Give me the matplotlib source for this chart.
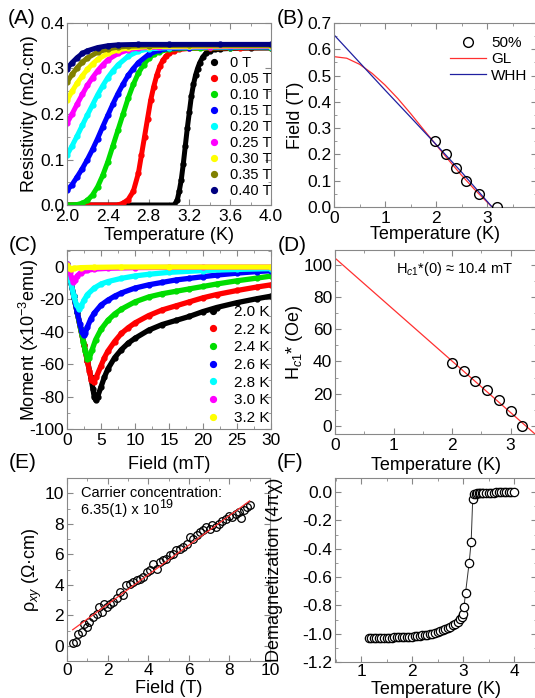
import matplotlib
matplotlib.use('Agg')
import matplotlib.pyplot as plt
from matplotlib.ticker import MultipleLocator, FormatStrFormatter

plt.rcParams['font.family'] = ['Liberation Sans', 'DejaVu Sans']
plt.rcParams['mathtext.fontset'] = 'custom'
plt.rcParams['mathtext.rm'] = 'Liberation Sans'
plt.rcParams['mathtext.it'] = 'Liberation Sans:italic'
plt.rcParams['axes.unicode_minus'] = False

# ---------------- (A) resistivity vs temperature ----------------
A_labels = ['0 T', '0.05 T', '0.10 T', '0.15 T', '0.20 T', '0.25 T', '0.30 T', '0.35 T', '0.40 T']
A_colors = ['black', '#ff0000', '#00dd00', '#0000ff', '#00ffff', '#ff00ff', '#ffff00', '#808000', '#000080']

T_00 = [2.0, 3.05, 3.08, 3.10, 3.12, 3.14, 3.16, 3.18, 3.20, 3.22, 3.24, 3.26, 3.28, 3.30, 3.33, 3.36, 3.40, 3.45, 3.5, 3.6, 3.8, 4.0]
R_00 = [0.0, 0.0, 0.01, 0.03, 0.055, 0.09, 0.13, 0.17, 0.205, 0.24, 0.265, 0.285, 0.30, 0.312, 0.325, 0.333, 0.339, 0.342, 0.343, 0.344, 0.345, 0.345]
T_05 = [2.0, 2.5, 2.55, 2.6, 2.65, 2.7, 2.73, 2.76, 2.79, 2.82, 2.85, 2.88, 2.91, 2.94, 2.97, 3.0, 3.05, 3.1, 3.2, 3.4, 3.7, 4.0]
R_05 = [0.0, 0.0, 0.004, 0.012, 0.03, 0.07, 0.11, 0.15, 0.19, 0.23, 0.26, 0.285, 0.305, 0.318, 0.327, 0.333, 0.339, 0.342, 0.344, 0.345, 0.345, 0.346]
T_10 = [2.0, 2.1, 2.15, 2.2, 2.25, 2.3, 2.35, 2.4, 2.45, 2.5, 2.55, 2.6, 2.65, 2.7, 2.75, 2.8, 2.85, 2.9, 3.0, 3.1, 3.3, 3.6, 4.0]
R_10 = [0.0, 0.001, 0.004, 0.01, 0.022, 0.04, 0.065, 0.095, 0.13, 0.165, 0.2, 0.235, 0.265, 0.29, 0.308, 0.322, 0.331, 0.337, 0.342, 0.344, 0.345, 0.346, 0.346]
T_15 = [2.0, 2.05, 2.1, 2.15, 2.2, 2.25, 2.3, 2.35, 2.4, 2.45, 2.5, 2.55, 2.6, 2.65, 2.7, 2.8, 2.9, 3.0, 3.2, 3.6, 4.0]
R_15 = [0.032, 0.045, 0.062, 0.08, 0.1, 0.122, 0.146, 0.172, 0.197, 0.222, 0.245, 0.266, 0.285, 0.3, 0.313, 0.331, 0.34, 0.344, 0.346, 0.347, 0.347]
T_20 = [2.0, 2.05, 2.1, 2.15, 2.2, 2.25, 2.3, 2.35, 2.4, 2.45, 2.5, 2.6, 2.7, 2.8, 3.0, 3.4, 4.0]
R_20 = [0.11, 0.13, 0.152, 0.175, 0.198, 0.22, 0.242, 0.262, 0.28, 0.295, 0.308, 0.327, 0.338, 0.343, 0.346, 0.347, 0.348]
T_25 = [2.0, 2.05, 2.1, 2.15, 2.2, 2.25, 2.3, 2.35, 2.4, 2.5, 2.6, 2.7, 2.9, 3.4, 4.0]
R_25 = [0.18, 0.2, 0.222, 0.243, 0.263, 0.28, 0.295, 0.308, 0.319, 0.333, 0.341, 0.345, 0.347, 0.348, 0.349]
T_30 = [2.0, 2.05, 2.1, 2.15, 2.2, 2.25, 2.3, 2.4, 2.5, 2.6, 2.8, 3.2, 4.0]
R_30 = [0.23, 0.25, 0.268, 0.284, 0.298, 0.31, 0.32, 0.333, 0.341, 0.345, 0.348, 0.349, 0.35]
T_35 = [2.0, 2.05, 2.1, 2.15, 2.2, 2.3, 2.4, 2.5, 2.6, 2.8, 3.2, 4.0]
R_35 = [0.27, 0.287, 0.302, 0.314, 0.323, 0.336, 0.343, 0.347, 0.349, 0.35, 0.351, 0.351]
T_40 = [2.0, 2.05, 2.1, 2.15, 2.2, 2.3, 2.4, 2.5, 2.7, 3.0, 3.5, 4.0]
R_40 = [0.30, 0.313, 0.324, 0.333, 0.339, 0.346, 0.35, 0.352, 0.353, 0.353, 0.353, 0.353]

# ---------------- (B) Hc2 vs temperature ----------------
B_T = [1.98, 2.2, 2.39, 2.59, 2.84, 3.19]
B_H = [0.25, 0.2, 0.15, 0.1, 0.05, 0.0]
GL_T = [0, 0.25, 0.5, 0.75, 1.0, 1.25, 1.5, 1.75, 2.0, 2.25, 2.5, 2.75, 3.0, 3.1]
GL_H = [0.572, 0.566, 0.543, 0.508, 0.464, 0.413, 0.356, 0.296, 0.237, 0.178, 0.121, 0.068, 0.019, 0.0]
WHH_T = [0, 0.5, 1.0, 1.5, 2.0, 2.5, 3.0, 3.1]
WHH_H = [0.655, 0.55, 0.445, 0.342, 0.238, 0.133, 0.022, 0.0]

# ---------------- (C) magnetization vs field ----------------
C_labels = ['2.0 K', '2.2 K', '2.4 K', '2.6 K', '2.8 K', '3.0 K', '3.2 K']
C_colors = ['black', '#ff0000', '#00dd00', '#0000ff', '#00ffff', '#ff00ff', '#ffff00']
H_20 = [0, 0.5, 1, 1.5, 2, 2.5, 3, 3.5, 3.8, 4.0, 4.2, 4.5, 5, 5.5, 6, 7, 8, 9, 10, 12, 14, 16, 18, 20, 22, 25, 28, 30]
M_20 = [2, -8, -18, -28, -38, -48, -58, -68, -75, -80, -82, -80, -74, -68, -63, -56, -51, -47, -44, -39, -35.5, -33, -30.5, -27.5, -25, -22, -19.5, -18]
H_22 = [0, 0.5, 1, 1.5, 2, 2.5, 3, 3.3, 3.6, 3.9, 4.3, 5, 5.5, 6, 7, 8, 9, 10, 12, 14, 16, 18, 20, 22, 25, 28, 30]
M_22 = [2, -8, -18, -28, -38, -48, -58, -64, -70, -71, -68, -61, -56, -52, -46, -41, -37.5, -34.5, -30, -26.5, -24, -21.5, -19, -17, -14.5, -12.3, -11]
H_24 = [0, 0.5, 1, 1.5, 2, 2.4, 2.7, 3.0, 3.3, 3.7, 4.2, 5, 6, 7, 8, 10, 12, 14, 16, 18, 20, 22, 25, 28, 30]
M_24 = [2, -8, -18, -28, -38, -46, -52, -56.5, -56, -51, -45, -38.5, -33, -29, -26, -21.5, -18.5, -16.5, -15, -13.5, -12, -10.5, -8.5, -6.8, -5.6]
H_26 = [0, 0.5, 1, 1.5, 1.9, 2.2, 2.45, 2.7, 3.0, 3.5, 4, 5, 6, 7, 8, 10, 12, 14, 16, 18, 20, 22, 25, 28, 30]
M_26 = [2, -8, -18, -28, -35, -40, -42, -40.5, -37, -32, -28.5, -23.5, -20.5, -18, -16, -13, -11, -9.5, -8, -7, -6, -5, -3.8, -2.8, -2.3]
H_28 = [0, 0.5, 1, 1.4, 1.8, 2.1, 2.5, 3, 4, 5, 6, 8, 10, 12, 15, 20, 25, 30]
M_28 = [2, -8, -18, -23.5, -26, -24, -20.5, -17, -13, -10.5, -9, -7, -5.5, -4.5, -3.3, -2.2, -1.5, -1.0]
H_30 = [0, 0.4, 0.7, 0.95, 1.2, 1.5, 2, 3, 4, 6, 10, 15, 20, 30]
M_30 = [2, -3, -7, -9, -8, -5.5, -3.5, -2, -1.3, -0.8, -0.4, -0.2, -0.1, 0]
H_32 = [0, 0.3, 0.6, 1, 2, 4, 8, 15, 30]
M_32 = [1, -0.5, -1, -0.8, -0.4, -0.2, 0, 0, 0]

# ---------------- (D) Hc1* vs temperature ----------------
D_T = [2.0, 2.2, 2.4, 2.6, 2.8, 3.0, 3.2]
D_H = [39, 34, 28, 22, 16, 9, 0]
Dfit_T = [0, 3.45]
Dfit_H = [104, -6]

# ---------------- (E) Hall resistivity vs field ----------------
E_B = [0.28, 0.44, 0.56, 0.72, 0.85, 1.0, 1.1, 1.3, 1.46, 1.57, 1.7, 1.84, 1.95, 2.11, 2.28, 2.44, 2.6, 2.77,
       2.93, 3.1, 3.26, 3.43, 3.59, 3.75, 3.92, 4.08, 4.25, 4.41, 4.57, 4.74, 4.9, 5.07, 5.23, 5.39, 5.56, 5.72,
       5.89, 6.05, 6.21, 6.38, 6.54, 6.7, 6.87, 7.03, 7.16, 7.33, 7.49, 7.66, 7.82, 7.98, 8.15, 8.31, 8.47, 8.56,
       8.72, 8.89, 9.0]
E_R = [0.15, 0.26, 0.8, 0.9, 1.45, 1.24, 1.57, 1.9, 2.1, 2.55, 2.2, 2.77, 2.55, 2.77, 2.88, 3.1, 3.5, 3.3,
       3.96, 4.07, 4.18, 4.29, 4.4, 4.5, 4.84, 4.95, 5.38, 5.05, 5.5, 5.6, 5.7, 5.93, 6.03, 6.25, 6.36, 6.47,
       6.69, 7.12, 7.0, 7.23, 7.45, 7.56, 7.78, 7.67, 7.89, 7.78, 8.0, 8.2, 8.3, 8.54, 8.43, 8.65, 8.76, 8.37,
       8.87, 9.1, 9.2]
Efit_B = [0.28, 9.0]
Efit_R = [1.05, 9.5]

# ---------------- (F) demagnetization vs temperature ----------------
F_T = [1.15, 1.2, 1.25, 1.3, 1.35, 1.4, 1.45, 1.5, 1.55, 1.6, 1.65, 1.7, 1.75, 1.8, 1.85, 1.9, 1.95, 2.0,
       2.05, 2.1, 2.15, 2.2, 2.25, 2.3, 2.35, 2.4, 2.45, 2.5, 2.55, 2.6, 2.65, 2.7, 2.75, 2.8, 2.85, 2.9, 2.95,
       2.98, 3.0, 3.02, 3.05, 3.12, 3.16, 3.19, 3.22, 3.25, 3.28, 3.31, 3.34, 3.37, 3.4, 3.45, 3.5, 3.55, 3.6,
       3.65, 3.7, 3.75, 3.8, 3.85, 3.9, 3.95, 4.0]
F_X = [-1.03, -1.03, -1.03, -1.03, -1.03, -1.03, -1.028, -1.028, -1.027, -1.027, -1.026, -1.025, -1.025,
       -1.024, -1.023, -1.022, -1.021, -1.02, -1.018, -1.016, -1.014, -1.012, -1.01, -1.007, -1.004, -1.0,
       -0.996, -0.99, -0.984, -0.977, -0.969, -0.96, -0.95, -0.94, -0.93, -0.915, -0.895, -0.88, -0.86, -0.81,
       -0.71, -0.50, -0.35, -0.05, -0.015, -0.01, -0.008, -0.006, -0.005, -0.005, -0.004, -0.004, -0.003,
       -0.003, -0.003, -0.002, -0.002, -0.002, -0.002, -0.002, -0.002, -0.002, -0.002]

W, H = 535, 698
fig = plt.figure(figsize=(W / 100, H / 100), dpi=100)


def add_ax(l, r, t, b):
    return fig.add_axes([l / W, 1 - b / H, (r - l) / W, (b - t) / H])


def style(ax, xmaj, xmin, ymaj, ymin, xpad=3):
    for s in ax.spines.values():
        s.set_color('#888888')
        s.set_linewidth(0.8)
    ax.tick_params(which='both', direction='in', top=True, right=True, color='#888888', labelsize=12.5)
    ax.tick_params(axis='x', pad=xpad)
    ax.tick_params(axis='y', pad=2)
    ax.tick_params(which='major', length=4)
    ax.tick_params(which='minor', length=2)
    ax.xaxis.set_major_locator(MultipleLocator(xmaj))
    ax.xaxis.set_minor_locator(MultipleLocator(xmin))
    ax.yaxis.set_major_locator(MultipleLocator(ymaj))
    ax.yaxis.set_minor_locator(MultipleLocator(ymin))


def labels(ax, xl, yl, xy, yx):
    ax.set_xlabel(xl, fontsize=13)
    ax.set_ylabel(yl, fontsize=13)
    ax.xaxis.set_label_coords(0.5, xy)
    ax.xaxis.label.set_va('center')
    ax.yaxis.set_label_coords(yx, 0.5)
    ax.yaxis.label.set_va('center')


# (A)
axA = add_ax(67, 271, 23, 205)
A_T = [T_00, T_05, T_10, T_15, T_20, T_25, T_30, T_35, T_40]
A_R = [R_00, R_05, R_10, R_15, R_20, R_25, R_30, R_35, R_40]
for t, r, c, lab in zip(A_T, A_R, A_colors, A_labels):
    axA.plot(t, r, '-', color=c, lw=3.6, solid_capstyle='round')
    axA.plot(t, r, 'o', color=c, ms=3.5, ls='none', label=lab)
axA.set_xlim(2.0, 4.0)
axA.set_ylim(0.0, 0.4)
style(axA, 0.4, 0.2, 0.1, 0.05)
axA.xaxis.set_major_formatter(FormatStrFormatter('%.1f'))
axA.yaxis.set_major_formatter(FormatStrFormatter('%.1f'))
labels(axA, 'Temperature (K)', 'Resistivity (mΩ·cm)', -0.165, -0.185)
axA.legend(loc='upper left', bbox_to_anchor=(0.65, 0.86), frameon=False, fontsize=10.5,
           handlelength=1.0, handletextpad=0.6, labelspacing=0.14, borderpad=0, markerscale=1.2)

# (B)
axB = add_ax(334, 537, 23, 207)
axB.plot(B_T, B_H, 'o', mfc='none', mec='black', ms=7, mew=1.0, ls='none', label='50%', zorder=3)
axB.plot(GL_T, GL_H, '-', color='#ff3030', lw=0.9, label='GL')
axB.plot(WHH_T, WHH_H, '-', color='#2020a0', lw=0.9, label='WHH')
axB.set_xlim(0, 203 / 51)
axB.set_ylim(0, 0.7)
style(axB, 1, 0.5, 0.1, 0.05)
axB.yaxis.set_major_formatter(FormatStrFormatter('%.1f'))
labels(axB, 'Temperature (K)', 'Field (T)', -0.152, -0.19)
axB.legend(loc='upper right', bbox_to_anchor=(0.99, 0.97), frameon=False, fontsize=11,
           handlelength=2.4, handletextpad=0.3, labelspacing=0.15, borderpad=0)

# (C)
axC = add_ax(67, 271, 250, 429)
C_H = [H_20, H_22, H_24, H_26, H_28, H_30, H_32]
C_M = [M_20, M_22, M_24, M_26, M_28, M_30, M_32]
for h, m, c, lab in zip(C_H, C_M, C_colors, C_labels):
    axC.plot(h, m, '-', color=c, lw=3.8, solid_capstyle='round')
    axC.plot(h, m, 'o', color=c, ms=3.5, ls='none', label=lab)
axC.set_xlim(0, 30)
axC.set_ylim(-100, 10.5)
style(axC, 5, 2.5, 20, 10)
labels(axC, 'Field (mT)', 'Moment (x10$^{-3}$emu)', -0.2, -0.185)
axC.legend(loc='lower left', bbox_to_anchor=(0.64, -0.02), frameon=False, fontsize=11,
           handlelength=1.0, handletextpad=0.9, labelspacing=0.24, borderpad=0, markerscale=1.2)

# (D)
axD = add_ax(335, 537, 250, 434)
axD.plot(Dfit_T, Dfit_H, '-', color='#ff3030', lw=0.9)
axD.plot(D_T, D_H, 'o', mfc='none', mec='black', ms=7, mew=1.0, ls='none')
axD.set_xlim(0, 202 / 58.5)
axD.set_ylim(-5, 109)
style(axD, 1, 0.5, 20, 10)
labels(axD, 'Temperature (K)', 'H$_{c1}$* (Oe)', -0.17, -0.2)
axD.text(2.05, 97, 'H$_{c1}$*(0) ≈ 10.4 mT', ha='center', va='center', fontsize=10.5)

# (E)
axE = add_ax(67, 270, 478, 661)
axE.plot(E_B, E_R, 'o', mfc='none', mec='black', ms=5.5, mew=0.9, ls='none')
axE.plot(Efit_B, Efit_R, '-', color='#ff3030', lw=0.9)
axE.set_xlim(0, 10)
axE.set_ylim(-1, 11)
style(axE, 2, 1, 2, 1, xpad=1.5)
labels(axE, 'Field (T)', 'ρ$_{xy}$ (Ω·cm)', -0.15, -0.17)
axE.text(0.07, 0.918, 'Carrier concentration:', transform=axE.transAxes, fontsize=10.5, va='center')
axE.text(0.07, 0.825, '6.35(1) x 10', transform=axE.transAxes, fontsize=10.5, va='center')
axE.text(0.455, 0.85, '19', transform=axE.transAxes, fontsize=9, va='center')

# (F)
axF = add_ax(335, 537, 478, 662)
axF.plot(F_T, F_X, '-', color='#333333', lw=0.7)
axF.plot(F_T, F_X, 'o', mfc='white', mec='black', ms=6, mew=0.9, ls='none')
axF.set_xlim(0.49, 0.49 + 202 / 51)
axF.set_ylim(-1.2, 0.1)
style(axF, 1, 0.5, 0.2, 0.1, xpad=1.5)
axF.yaxis.set_major_formatter(FormatStrFormatter('%.1f'))
labels(axF, 'Temperature (K)', 'Demagnetization (4πχ)', -0.152, -0.3)

for txt, x, y in [('(A)', 22, 18), ('(B)', 291, 18), ('(C)', 23, 245),
                  ('(D)', 292, 245), ('(E)', 23, 463), ('(F)', 290, 463)]:
    fig.text(x / W, 1 - y / H, txt, fontsize=15, ha='center', va='center')

fig.savefig('out.png', dpi=100)
